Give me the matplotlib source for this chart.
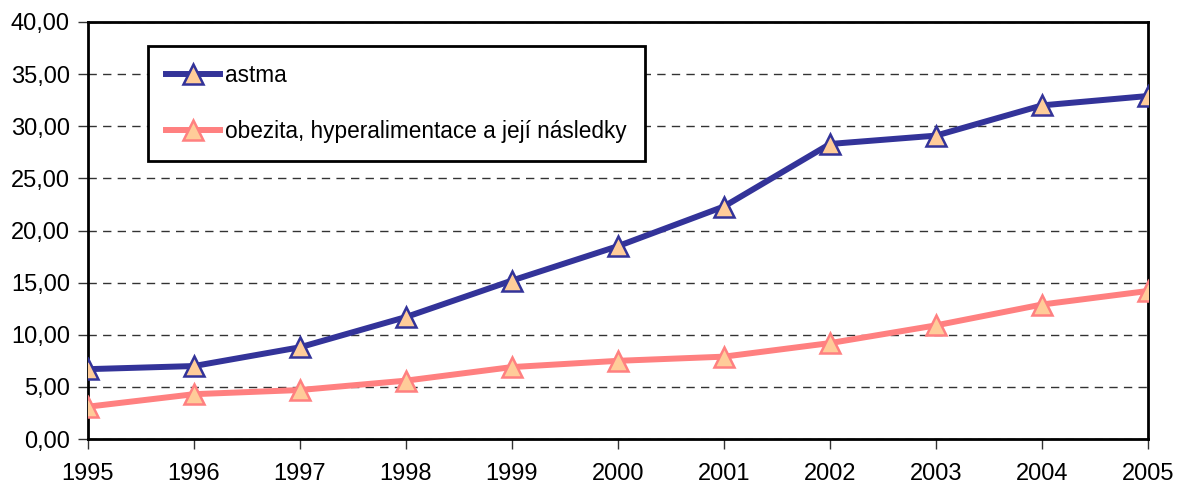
import matplotlib
matplotlib.use("Agg")
import matplotlib.pyplot as plt
from matplotlib.ticker import FuncFormatter

years = [1995, 1996, 1997, 1998, 1999, 2000, 2001, 2002, 2003, 2004, 2005]
astma = [6.7, 7.0, 8.8, 11.7, 15.2, 18.5, 22.3, 28.3, 29.1, 32.0, 32.9]
obezita = [3.1, 4.3, 4.7, 5.6, 6.9, 7.5, 7.9, 9.2, 10.9, 12.9, 14.2]
y_ticks = [0, 5, 10, 15, 20, 25, 30, 35, 40]

plt.rcParams['font.family'] = ['Liberation Sans Narrow', 'Liberation Sans', 'DejaVu Sans']

fig, ax = plt.subplots(figsize=(11.81, 4.93), dpi=100)
fig.subplots_adjust(left=0.0745, right=0.972, top=0.9554, bottom=0.1095)

ax.plot(years, astma, color='#333399', lw=4.3, marker='^', ms=14,
        mfc='#FFCC99', mec='#333399', mew=1.8, label='astma', zorder=4)
ax.plot(years, obezita, color='#FF8080', lw=4.3, marker='^', ms=14,
        mfc='#FFCC99', mec='#FF8080', mew=1.8,
        label='obezita, hyperalimentace a její následky', zorder=3)

ax.set_xlim(years[0], years[-1])
ax.set_ylim(0, 40)
ax.set_xticks(years)
ax.set_yticks(y_ticks)
ax.yaxis.set_major_formatter(FuncFormatter(lambda v, p: f"{v:.2f}".replace('.', ',')))
ax.yaxis.grid(True, color='#333333', lw=1, linestyle=(0, (6, 4.5)))
ax.set_axisbelow(True)

for s in ax.spines.values():
    s.set_linewidth(2)
    s.set_color('black')

ax.tick_params(axis='both', labelsize=17, direction='out', length=7, width=1,
               color='#333333')
ax.tick_params(axis='x', pad=10)
ax.tick_params(axis='y', pad=6)

leg = ax.legend(loc='upper left', bbox_to_anchor=(0.0566, 0.9424), fontsize=16.3,
                frameon=True, fancybox=False, borderpad=0.8, labelspacing=1.45,
                handlelength=2.4, handletextpad=0.2, borderaxespad=0)
leg.get_frame().set_edgecolor('black')
leg.get_frame().set_linewidth(2)
leg.get_frame().set_alpha(1)

fig.savefig('out.png', dpi=100)
